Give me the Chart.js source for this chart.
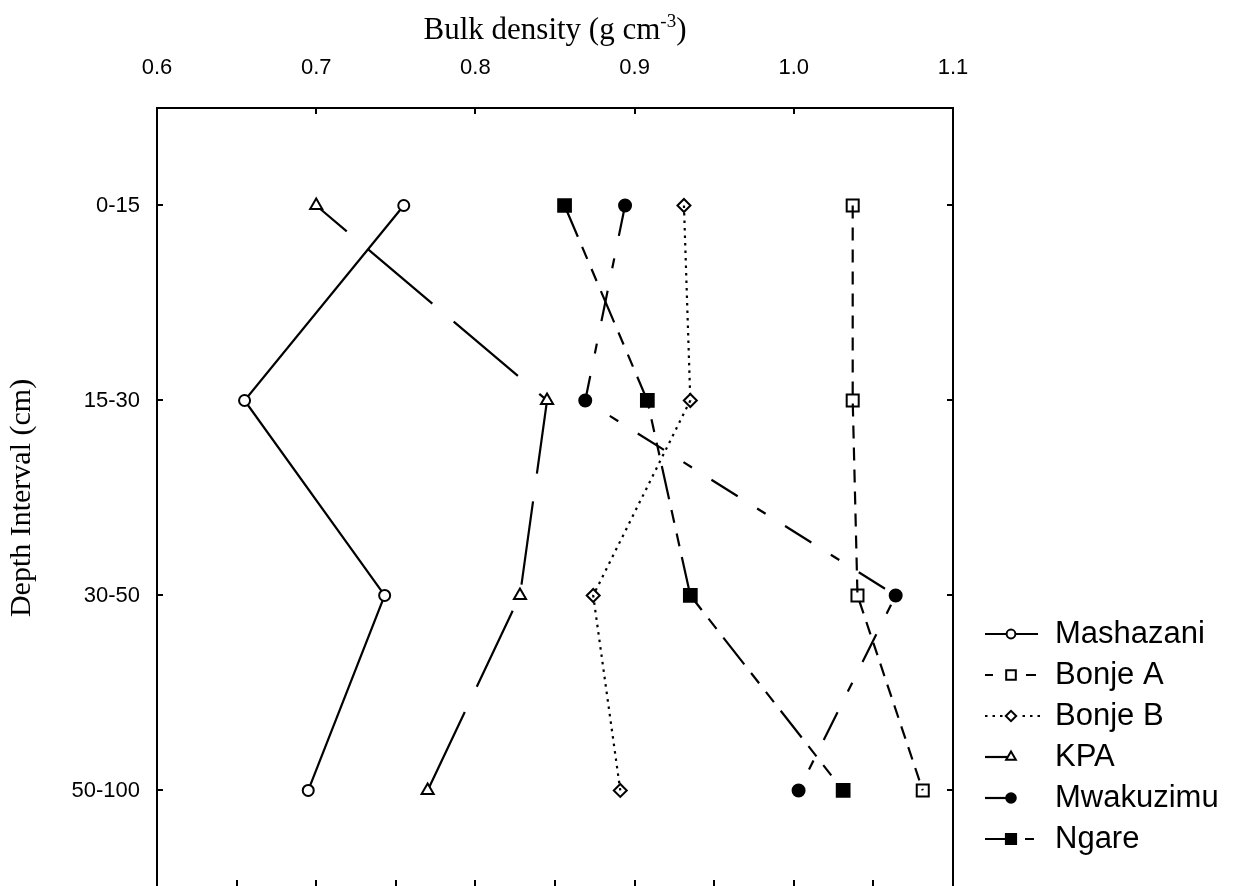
<!DOCTYPE html>
<html>
<head>
<meta charset="utf-8">
<script src="https://cdn.jsdelivr.net/npm/chart.js@4.4.1/dist/chart.umd.min.js"></script>
<style>
  html, body { margin: 0; padding: 0; background: #ffffff; }
  #wrap { width: 1234px; height: 886px; position: relative; }
</style>
</head>
<body>
<div id="wrap"><canvas id="chart" width="1234" height="886"></canvas></div>
<script>
// Depth intervals (rows, top to bottom) and x-axis tick values
const depthLabels = ['0-15', '15-30', '30-50', '50-100'];
const densityTicks = [0.6, 0.7, 0.8, 0.9, 1.0, 1.1];
const minorTicks = [0.65, 0.7, 0.75, 0.8, 0.85, 0.9, 0.95, 1.0, 1.05];

// Bulk density (g cm-3) per site, one value per depth interval
const siteNames = ['Mashazani', 'Bonje A', 'Bonje B', 'KPA', 'Mwakuzimu', 'Ngare'];
const mashazani = [0.755, 0.655, 0.743, 0.695];
const bonjeA    = [1.037, 1.037, 1.040, 1.081];
const bonjeB    = [0.931, 0.935, 0.874, 0.891];
const kpa       = [0.700, 0.845, 0.828, 0.770];
const mwakuzimu = [0.894, 0.869, 1.064, 1.003];
const ngare     = [0.856, 0.908, 0.935, 1.031];
const siteValues = [mashazani, bonjeA, bonjeB, kpa, mwakuzimu, ngare];

// Line and marker styling for each site
const siteStyles = [
  { pointStyle: 'circle',   radius: 5.5, fill: '#ffffff',       dash: [],                       dashOffset: 0 },
  { pointStyle: 'rect',     radius: 8.5, fill: 'rgba(0,0,0,0)', dash: [13, 9],                  dashOffset: 0 },
  { pointStyle: 'rectRot',  radius: 6.5, fill: 'rgba(0,0,0,0)', dash: [2.5, 5],                 dashOffset: 0 },
  { pointStyle: 'triangle', radius: 7,   fill: '#ffffff',       dash: [84, 28],                 dashOffset: 44 },
  { pointStyle: 'circle',   radius: 6,   fill: '#000000',       dash: [31, 23, 10, 23],         dashOffset: 0 },
  { pointStyle: 'rect',     radius: 9,   fill: '#000000',       dash: [34, 11, 13, 11, 13, 11], dashOffset: 0 }
];

const SANS = '"Liberation Sans", Arial, sans-serif';
const SERIF = '"Liberation Serif", "Times New Roman", serif';

const datasets = siteNames.map((name, i) => ({
  label: name,
  data: siteValues[i].map((v, row) => ({ x: v, y: row })),
  showLine: true,
  borderColor: '#000000',
  borderWidth: 2.2,
  borderDash: siteStyles[i].dash,
  borderDashOffset: siteStyles[i].dashOffset,
  tension: 0,
  fill: false,
  pointStyle: siteStyles[i].pointStyle,
  pointRadius: siteStyles[i].radius,
  pointHoverRadius: siteStyles[i].radius,
  pointBorderWidth: 2,
  pointBorderColor: '#000000',
  pointBackgroundColor: siteStyles[i].fill
}));

// Frame with inward ticks, axis titles and the line/marker legend
const decorations = {
  id: 'decorations',
  afterDraw(chart) {
    const ctx = chart.ctx;
    const area = chart.chartArea;
    const xs = chart.scales.x;
    const ys = chart.scales.y;
    const H = chart.height;
    const tick = 6;

    ctx.save();
    ctx.strokeStyle = '#000000';
    ctx.lineWidth = 2;
    ctx.setLineDash([]);
    ctx.lineCap = 'butt';

    // frame: top, left, right (bottom edge lies just past the canvas)
    ctx.beginPath();
    ctx.moveTo(area.left, H);
    ctx.lineTo(area.left, area.top);
    ctx.lineTo(area.right, area.top);
    ctx.lineTo(area.right, H);
    ctx.stroke();

    // top ticks at labelled values (inside the frame)
    ctx.beginPath();
    densityTicks.slice(1, -1).forEach(v => {
      const px = Math.round(xs.getPixelForValue(v));
      ctx.moveTo(px, area.top);
      ctx.lineTo(px, area.top + tick);
    });
    // bottom minor ticks
    minorTicks.forEach(v => {
      const px = Math.round(xs.getPixelForValue(v));
      ctx.moveTo(px, H);
      ctx.lineTo(px, H - tick);
    });
    // left and right ticks at each depth row
    depthLabels.forEach((_, i) => {
      const py = Math.round(ys.getPixelForValue(i));
      ctx.moveTo(area.left, py);
      ctx.lineTo(area.left + tick, py);
      ctx.moveTo(area.right, py);
      ctx.lineTo(area.right - tick, py);
    });
    ctx.stroke();

    // x-axis title with superscript unit
    ctx.fillStyle = '#000000';
    ctx.textBaseline = 'alphabetic';
    ctx.textAlign = 'left';
    const mainFont = '31px ' + SERIF;
    const supFont = '19px ' + SERIF;
    const partA = 'Bulk density (g cm';
    const partSup = '-3';
    const partB = ')';
    ctx.font = mainFont;
    const wA = ctx.measureText(partA).width;
    const wB = ctx.measureText(partB).width;
    ctx.font = supFont;
    const wS = ctx.measureText(partSup).width;
    const total = wA + wS + wB;
    const cx = (area.left + area.right) / 2;
    let tx = cx - total / 2;
    const base = 39;
    ctx.font = mainFont;
    ctx.fillText(partA, tx, base);
    tx += wA;
    ctx.font = supFont;
    ctx.fillText(partSup, tx, base - 12);
    tx += wS;
    ctx.font = mainFont;
    ctx.fillText(partB, tx, base);

    // y-axis title
    ctx.save();
    ctx.translate(22, ys.getPixelForValue(1.5));
    ctx.rotate(-Math.PI / 2);
    ctx.textAlign = 'center';
    ctx.textBaseline = 'middle';
    ctx.font = '30px ' + SERIF;
    ctx.fillText('Depth Interval (cm)', 0, 0);
    ctx.restore();

    // legend
    const lx0 = 985, lx1 = 1038, mx = 1011, textX = 1055;
    const legendTop = 634, legendGap = 41;
    const segments = [
      [[lx0, lx1]],
      [[lx0, lx0 + 8], [lx1 - 12, lx1 - 2]],
      null,
      [[lx0, mx]],
      [[lx0, mx]],
      [[lx0, mx], [lx1 - 13, lx1 - 4]]
    ];
    siteNames.forEach((name, i) => {
      const y = legendTop + i * legendGap;
      const st = siteStyles[i];
      ctx.strokeStyle = '#000000';
      ctx.lineWidth = 2.2;
      ctx.setLineDash([]);
      ctx.beginPath();
      if (segments[i]) {
        segments[i].forEach(s => { ctx.moveTo(s[0], y); ctx.lineTo(s[1], y); });
      } else {
        // dotted sample
        for (let d = lx0; d < lx1; d += 7.5) {
          if (Math.abs(d - mx) < 8) continue;
          ctx.moveTo(d, y);
          ctx.lineTo(d + 2.5, y);
        }
      }
      ctx.stroke();
      ctx.lineWidth = 2;
      ctx.fillStyle = st.fill === 'rgba(0,0,0,0)' ? '#ffffff' : st.fill;
      Chart.helpers.drawPoint(ctx, {
        pointStyle: st.pointStyle,
        radius: st.radius * 0.8,
        borderWidth: 2,
        rotation: 0
      }, mx, y);
      ctx.fillStyle = '#000000';
      ctx.font = '31px ' + SANS;
      ctx.textAlign = 'left';
      ctx.textBaseline = 'middle';
      ctx.fillText(name, textX, y);
    });

    ctx.restore();
  }
};

new Chart(document.getElementById('chart'), {
  type: 'scatter',
  data: { datasets },
  options: {
    responsive: false,
    animation: false,
    devicePixelRatio: 1,
    layout: { autoPadding: false, padding: { left: 0, top: 0, right: 281, bottom: 0 } },
    plugins: {
      legend: { display: false },
      tooltip: { enabled: false },
      title: { display: false }
    },
    scales: {
      x: {
        type: 'linear',
        position: 'top',
        min: 0.6,
        max: 1.1,
        afterBuildTicks: s => { s.ticks = densityTicks.map(v => ({ value: v })); },
        afterFit: s => { s.height = 108; s.paddingLeft = 0; s.paddingRight = 0; },
        grid: { display: false, drawTicks: false },
        border: { display: false },
        ticks: {
          color: '#000000',
          font: { family: SANS, size: 22 },
          padding: 27,
          maxRotation: 0,
          autoSkip: false,
          callback: v => Number(v).toFixed(1)
        }
      },
      y: {
        type: 'linear',
        reverse: true,
        min: -0.5,
        max: 3.49,
        afterBuildTicks: s => { s.ticks = depthLabels.map((_, i) => ({ value: i })); },
        afterFit: s => { s.width = 157; s.paddingTop = 0; s.paddingBottom = 0; },
        grid: { display: false, drawTicks: false },
        border: { display: false },
        ticks: {
          color: '#000000',
          font: { family: SANS, size: 22 },
          padding: 17,
          autoSkip: false,
          callback: v => depthLabels[v]
        }
      }
    }
  },
  plugins: [decorations]
});
</script>
</body>
</html>
